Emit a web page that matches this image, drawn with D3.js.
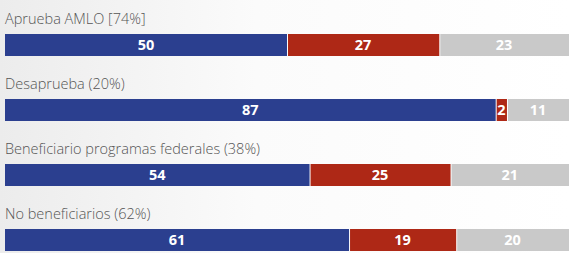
<!DOCTYPE html>
<html lang="es">
<head>
<meta charset="UTF-8">
<title>Aprobación AMLO</title>
<script src="https://d3js.org/d3.v7.min.js"></script>
<style>
    body {
        margin: 0;
        padding: 0;
        background: #fff;
    }
    #chart svg {
        display: block;
    }
</style>
</head>
<body>
<div id="chart"></div>
<script>
    // data
    const groups = ["Aprueba AMLO [74%]", "Desaprueba (20%)", "Beneficiario programas federales (38%)", "No beneficiarios (62%)"];
    const favor = [50, 87, 54, 61];
    const contra = [27, 2, 25, 19];
    const nosabe = [23, 11, 21, 20];

    const width = 569, height = 253;
    const margin = {top: 0, right: 0, bottom: 0, left: 5};

    const svg = d3.select("#chart").append("svg")
        .attr("width", width)
        .attr("height", height);

    // faint grey wash on the left like the photo
    const defs = svg.append("defs");
    const bg = defs.append("linearGradient").attr("id", "bg")
        .attr("x1", "0%").attr("x2", "100%").attr("y1", "0%").attr("y2", "0%");
    bg.append("stop").attr("offset", "0%").attr("stop-color", "#ececec");
    bg.append("stop").attr("offset", "45%").attr("stop-color", "#fbfbfb");
    bg.append("stop").attr("offset", "100%").attr("stop-color", "#ffffff");
    svg.append("rect").attr("width", width).attr("height", height).attr("fill", "url(#bg)");

    const x = d3.scaleLinear()
        .domain([0, 100])
        .range([margin.left, width - margin.right]);

    const y = d3.scalePoint()
        .domain(groups)
        .range([34, 229]);

    const barH = 22;
    const colors = ["#2b3f8f", "#ae2816", "#c9c9c9"];

    const rows = groups.map((g, i) => {
        const vals = [favor[i], contra[i], nosabe[i]];
        let acc = 0;
        return {
            name: g,
            segs: vals.map((v, k) => {
                const s = {x0: acc, x1: acc + v, v: v, k: k};
                acc += v;
                return s;
            })
        };
    });

    const row = svg.append("g").selectAll("g")
        .data(rows)
        .join("g")
        .attr("transform", d => `translate(0,${y(d.name)})`);

    row.append("text")
        .attr("x", 5)
        .attr("y", -10)
        .style("font-family", "'Open Sans', Lato, sans-serif")
        .style("font-weight", 300)
        .style("font-size", "14.5px")
        .style("fill", "#555")
        .text(d => d.name);

    const seg = row.selectAll("g.seg")
        .data(d => d.segs)
        .join("g")
        .attr("class", "seg");

    seg.append("rect")
        .attr("x", d => x(d.x0) + (d.k > 0 ? 1 : 0))
        .attr("y", 0)
        .attr("width", d => Math.max(1, x(d.x1) - x(d.x0) - (d.k > 0 ? 1 : 0)))
        .attr("height", barH)
        .attr("fill", d => colors[d.k]);

    seg.append("text")
        .attr("x", d => (x(d.x0) + x(d.x1)) / 2)
        .attr("y", barH / 2)
        .attr("dy", "0.36em")
        .attr("text-anchor", "middle")
        .style("font-family", "'Open Sans', Lato, sans-serif")
        .style("font-weight", 700)
        .style("font-size", "14.5px")
        .style("fill", "#fff")
        .text(d => d.v);
</script>
</body>
</html>
